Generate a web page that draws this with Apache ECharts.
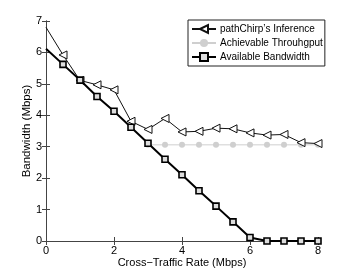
<!DOCTYPE html>
<html><head><meta charset="utf-8">
<script src="https://cdn.jsdelivr.net/npm/echarts@6/dist/echarts.min.js"></script>
<style>html,body{margin:0;padding:0;background:#fff}#c{width:351px;height:273px}</style>
</head><body><div id="c"></div>
<script>
var xValues = [0, 0.5, 1, 1.5, 2, 2.5, 3, 3.5, 4, 4.5, 5, 5.5, 6, 6.5, 7, 7.5, 8];
var pathChirp = [6.8, 5.92, 5.11, 4.97, 4.81, 3.81, 3.55, 3.9, 3.47, 3.49, 3.59, 3.57, 3.44, 3.37, 3.39, 3.13, 3.1];
var availBW = [6.12, 5.62, 5.12, 4.6, 4.13, 3.62, 3.11, 2.6, 2.11, 1.6, 1.11, 0.61, 0.11, 0, 0, 0, 0];
var achX = [3, 3.5, 4, 4.5, 5, 5.5, 6, 6.5, 7, 7.5, 8];
var achievable = [3.06, 3.06, 3.06, 3.06, 3.06, 3.06, 3.06, 3.06, 3.06, 3.06, 3.06];
var seriesNames = ["pathChirp\u2019s Inference", "Achievable Throuhgput", "Available Bandwidth"];
var xTicks = [0, 2, 4, 6, 8];
var yTicks = [0, 1, 2, 3, 4, 5, 6, 7];

function pairs(xs, ys, skipFirst) {
  return xs.map(function (x, i) {
    var d = { value: [x, ys[i]] };
    if (skipFirst && i === 0) d.symbol = 'none';
    return d;
  });
}
var FONT = 'Liberation Sans, Arial, Helvetica, sans-serif';
var axisCol = '#444';
var chart = echarts.init(document.getElementById('c'), null, { renderer: 'canvas' });
var baseX = {
  type: 'value', min: xTicks[0], max: xTicks[xTicks.length - 1], interval: 2,
  axisLine: { show: true, lineStyle: { color: axisCol, width: 1 } },
  axisTick: { show: true, inside: true, length: 4, lineStyle: { color: axisCol } },
  splitLine: { show: false }
};
var baseY = {
  type: 'value', min: yTicks[0], max: yTicks[yTicks.length - 1], interval: 1,
  axisLine: { show: true, lineStyle: { color: axisCol, width: 1 } },
  axisTick: { show: true, inside: true, length: 4, lineStyle: { color: axisCol } },
  splitLine: { show: false }
};
chart.setOption({
  animation: false,
  backgroundColor: '#fff',
  textStyle: { fontFamily: FONT },
  grid: { left: 46, right: 33, top: 21, bottom: 30, containLabel: false },
  xAxis: [
    Object.assign({}, baseX, {
      position: 'bottom',
      name: 'Cross\u2212Traffic Rate (Mbps)', nameLocation: 'middle', nameGap: 16,
      nameMoveOverlap: false,
      nameTextStyle: { color: '#000', fontSize: 11, fontFamily: FONT },
      axisLabel: { color: '#000', fontSize: 11, margin: 4, fontFamily: FONT }
    }),
    Object.assign({}, baseX, { position: 'top', axisLabel: { show: false } })
  ],
  yAxis: [
    Object.assign({}, baseY, {
      position: 'left',
      name: 'Bandwidth (Mbps)', nameLocation: 'middle', nameGap: 13,
      nameMoveOverlap: false,
      nameTextStyle: { color: '#000', fontSize: 11.5, fontFamily: FONT },
      axisLabel: { color: '#000', fontSize: 11, margin: 4, fontFamily: FONT }
    }),
    Object.assign({}, baseY, { position: 'right', axisLabel: { show: false } })
  ],
  legend: {
    orient: 'vertical', left: 188, top: 20,
    data: seriesNames,
    backgroundColor: '#fff', borderColor: '#222', borderWidth: 1, borderRadius: 0,
    padding: [4, 2, 4, 3], itemGap: 4, itemWidth: 24, itemHeight: 10,
    textStyle: { color: '#000', fontSize: 10, fontFamily: FONT, padding: [0, 0, 0, -1] }
  },
  series: [
    {
      name: seriesNames[1], type: 'line', data: pairs(achX, achievable, false),
      symbol: 'circle', symbolSize: 6, z: 2,
      lineStyle: { color: '#cfcfcf', width: 1 },
      itemStyle: { color: '#cfcfcf', borderWidth: 0 }
    },
    {
      name: seriesNames[0], type: 'line', data: pairs(xValues, pathChirp, true),
      symbol: 'triangle', symbolRotate: 90, symbolSize: 8, z: 3,
      lineStyle: { color: '#111', width: 1 },
      itemStyle: { color: '#fff', borderColor: '#111', borderWidth: 1 }
    },
    {
      name: seriesNames[2], type: 'line', data: pairs(xValues, availBW, true),
      symbol: 'rect', symbolSize: 6, z: 4,
      lineStyle: { color: '#000', width: 2 },
      itemStyle: { color: '#ddd', borderColor: '#000', borderWidth: 1.6 }
    }
  ]
});
</script></body></html>
